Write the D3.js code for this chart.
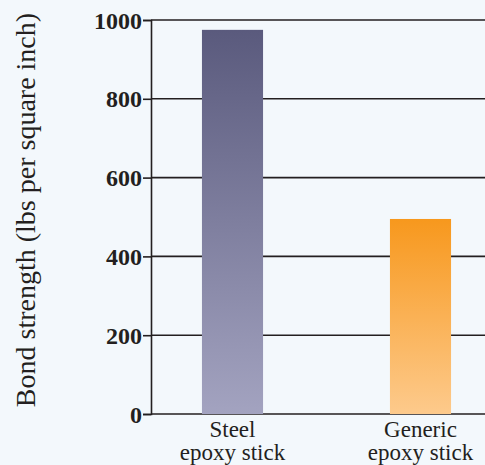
<!DOCTYPE html>
<html>
<head>
<meta charset="utf-8">
<script src="https://cdn.jsdelivr.net/npm/d3@7"></script>
<style>
  html, body { margin: 0; padding: 0; background: #f3f8fc; }
  svg { display: block; }
</style>
</head>
<body>
<svg id="chart" width="485" height="465"></svg>
<script>
// Bond strength of two epoxy sticks
const categories = ["Steel\nepoxy stick", "Generic\nepoxy stick"];
const strengths = [975, 495];
const tickValues = [0, 200, 400, 600, 800, 1000];
const barColors = [
  { top: "#5a5a7d", bottom: "#a3a3c0" },
  { top: "#f7981d", bottom: "#fdca8c" }
];

const svg = d3.select("#chart");
const W = 485;
const ink = "#231f20";
const serif = "'Liberation Serif', 'Times New Roman', serif";

const y = d3.scaleLinear().domain([0, 1000]).range([414, 20]);
const x = d3.scaleBand()
  .domain(categories)
  .range([151, 502])
  .paddingInner(0.675)
  .paddingOuter(0.271);

const defs = svg.append("defs");
barColors.forEach((c, i) => {
  const g = defs.append("linearGradient")
    .attr("id", "grad" + i)
    .attr("x1", 0).attr("y1", 0).attr("x2", 0).attr("y2", 1);
  g.append("stop").attr("offset", "0%").attr("stop-color", c.top);
  g.append("stop").attr("offset", "100%").attr("stop-color", c.bottom);
});

// gridlines
svg.append("g")
  .selectAll("line")
  .data(tickValues)
  .join("line")
  .attr("x1", 151).attr("x2", W)
  .attr("y1", d => y(d)).attr("y2", d => y(d))
  .attr("stroke", ink).attr("stroke-width", 1.6);

// bars
svg.append("g")
  .selectAll("rect")
  .data(strengths)
  .join("rect")
  .attr("x", (d, i) => x(categories[i]))
  .attr("width", x.bandwidth())
  .attr("y", d => y(d))
  .attr("height", d => y(0) - y(d))
  .attr("fill", (d, i) => `url(#grad${i})`);

// y axis
const yAxis = svg.append("g")
  .attr("transform", "translate(151,0)")
  .call(d3.axisLeft(y).tickValues(tickValues).tickSize(8).tickPadding(1).tickFormat(d3.format("d")));
yAxis.select(".domain").attr("stroke", ink).attr("stroke-width", 1.6);
yAxis.selectAll(".tick line").attr("stroke", ink).attr("stroke-width", 1.6);
yAxis.selectAll(".tick text")
  .attr("fill", ink)
  .attr("font-family", serif)
  .attr("font-weight", "bold")
  .attr("font-size", 24)
  .attr("dy", "0.34em");

// category labels, two lines each
const lab = svg.append("g")
  .selectAll("text")
  .data(categories)
  .join("text")
  .attr("x", d => x(d) + x.bandwidth() / 2)
  .attr("y", 437)
  .attr("text-anchor", "middle")
  .attr("fill", ink)
  .attr("font-family", serif)
  .attr("font-size", 23);
lab.selectAll("tspan")
  .data(d => d.split("\n"))
  .join("tspan")
  .attr("x", function () { return this.parentNode.getAttribute("x"); })
  .attr("dy", (d, i) => i === 0 ? 0 : 23)
  .text(d => d);

// y axis title
svg.append("text")
  .attr("transform", "translate(35,210) rotate(-90)")
  .attr("text-anchor", "middle")
  .attr("fill", ink)
  .attr("font-family", serif)
  .attr("font-size", 28)
  .text("Bond strength (lbs per square inch)");
</script>
</body>
</html>
